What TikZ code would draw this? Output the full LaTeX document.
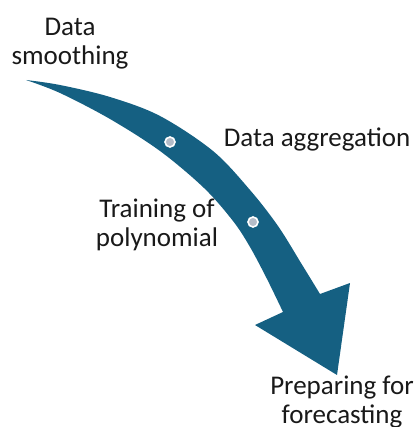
\documentclass[tikz,border=0pt]{standalone}
\usepackage{fontspec}
\setmainfont{Carlito}
\definecolor{flowblue}{HTML}{156082}
\definecolor{dotgrey}{HTML}{B4BCC8}
\begin{document}
\begin{tikzpicture}[x=1pt,y=-1pt,
  label/.style={inner sep=0pt,align=center,text=black!90,
    font=\fontsize{27}{29}\selectfont},
  stop/.style={circle,fill=dotgrey,draw=white,line width=1.6pt,
    minimum size=10pt,inner sep=0pt}]
\useasboundingbox (0,0) rectangle (419,427);

% curved band with its head
\fill[flowblue]
  plot[smooth,tension=0.55] coordinates {(26,80) (60,85) (110,97) (160,116)
    (213,151) (250,190) (278,226) (301,263) (320,294)}
  -- (350,283) -- (337,375) -- (255,325)
  -- plot[smooth,tension=0.55] coordinates {(283,312) (267,279) (250,247)
    (233,221) (204,188) (160,151) (110,119) (60,93) (26,80)}
  -- cycle;

% stops along the band
\node[stop] (s1) at (170,142) {};
\node[stop] (s2) at (253,222) {};

% step labels
\node[label] (smooth) at (70,44) {Data\\smoothing};
\node[label,anchor=base] (aggr) at (317,147) {Data aggregation};
\node[label] (train) at (157,225) {Training of\\polynomial};
\node[label] (prep) at (342,402) {Preparing for\\forecasting};
\end{tikzpicture}
\end{document}
